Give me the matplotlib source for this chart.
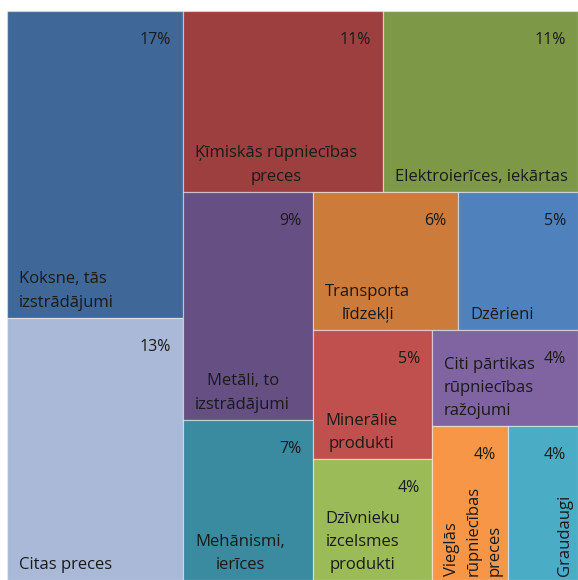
import matplotlib.pyplot as plt
from matplotlib.patches import Rectangle

# category names (with line breaks as in the chart)
names = ["Koksne, tās\nizstrādājumi", "Citas preces", "Ķīmiskās rūpniecības\npreces",
         "Elektroierīces, iekārtas", "Metāli, to\nizstrādājumi", "Mehānismi,\nierīces",
         "Transporta\nlīdzekļi", "Dzērieni", "Minerālie\nprodukti",
         "Dzīvnieku\nizcelsmes\nprodukti", "Citi pārtikas\nrūpniecības\nražojumi",
         "Vieglās\nrūpniecības\npreces", "Graudaugi"]
# share of exports (areas of the tiles)
values = [16.6, 14.2, 11.1, 10.8, 9.1, 6.4, 6.2, 5.1, 4.7, 4.4, 4.3, 3.6, 3.3]
pct_labels = ["17%", "13%", "11%", "11%", "9%", "7%", "6%", "5%", "5%", "4%", "4%", "4%", "4%"]
colors = ["#3F6797", "#A9B9D7", "#9D3F3E", "#7D9948", "#664F82", "#3A8AA0",
          "#CD7B3A", "#4F81BD", "#C0504D", "#9BBB59", "#8064A2", "#F79646", "#4BACC6"]
# how many tiles go into each strip of the layout
groups = [2, 2, 2, 2, 2, 1, 2]


def strip_layout(vals, groups, x, y, w, h):
    scale = w * h / sum(vals)
    rects = []
    i = 0
    for n in groups:
        part = vals[i:i + n]
        last = (i + n == len(vals))
        s = sum(part)
        if w >= h:
            sw = w if last else s * scale / h
            yy = y
            for v in part:
                hh = h * v / s
                rects.append((x, yy, sw, hh))
                yy += hh
            x += sw
            w -= sw
        else:
            sh = h if last else s * scale / w
            xx = x
            for v in part:
                ww = w * v / s
                rects.append((xx, y, ww, sh))
                xx += ww
            y += sh
            h -= sh
        i += n
    return rects


W, H = 578, 580
fig = plt.figure(figsize=(W / 100, H / 100), dpi=100)
ax = fig.add_axes([0, 0, 1, 1])
ax.set_xlim(0, W)
ax.set_ylim(H, 0)
ax.axis("off")

rects = strip_layout(values, groups, 7, 11, 571, 569)

font = "Open Sans"
fs = 12
for i, (x, y, w, h) in enumerate(rects):
    ax.add_patch(Rectangle((x, y), w, h, facecolor=colors[i],
                           edgecolor=(1, 1, 1, 0.45), lw=0.9))
    ax.text(x + w - 12, y + 29, pct_labels[i], ha="right", va="center",
            fontsize=fs - 0.5, family=font, color="#1a1a1a")
    if i >= 11:
        ax.text(x + w - 5, y + h - 4, names[i], rotation=90, ha="right", va="bottom",
                multialignment="left", fontsize=fs, family=font, color="#1a1a1a",
                linespacing=1.45)
    else:
        ma = "left" if i in (0, 1, 3, 7, 10) else "center"
        ax.text(x + 12, y + h - 7, names[i], ha="left", va="bottom",
                multialignment=ma, fontsize=fs, family=font, color="#1a1a1a",
                linespacing=1.6)

fig.savefig("out.png", dpi=100)
